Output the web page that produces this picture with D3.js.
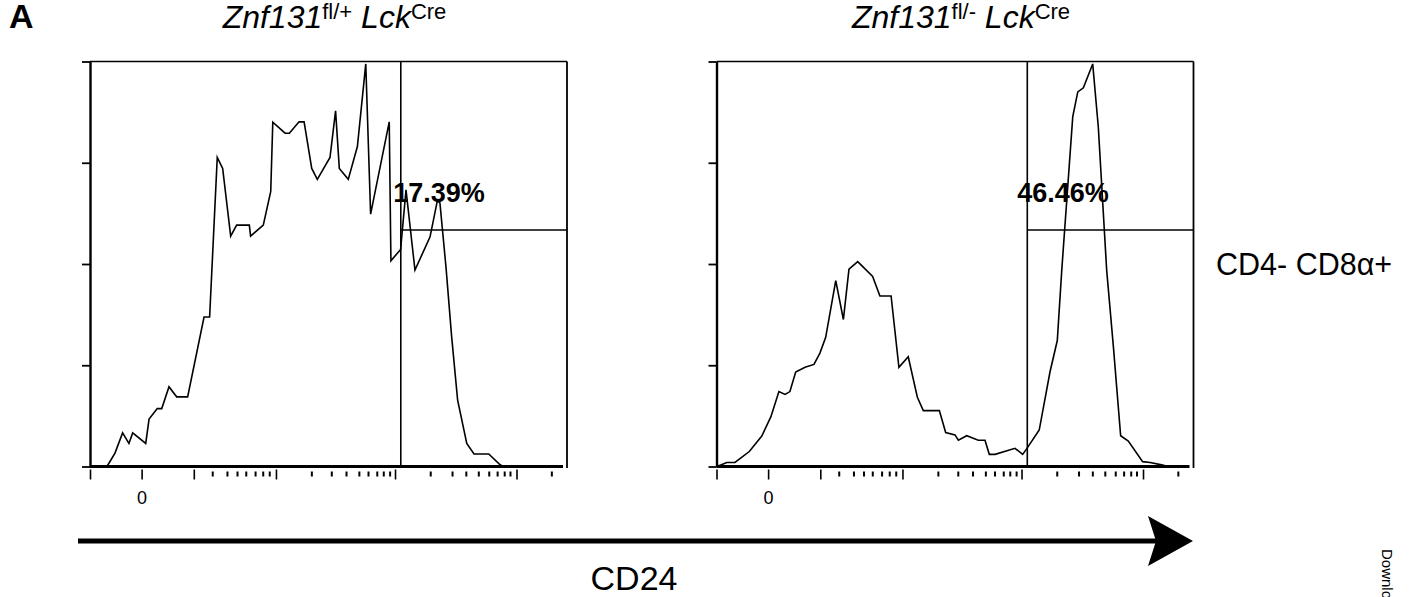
<!DOCTYPE html>
<html>
<head>
<meta charset="utf-8">
<script src="https://cdn.jsdelivr.net/npm/d3@7"></script>
<style>
  body { margin: 0; background: #fff; }
  svg { display: block; font-family: "Liberation Sans", Arial, sans-serif; }
</style>
</head>
<body>
<svg id="fig" width="1414" height="597"></svg>
<script>
// channel scale (0-256 display channels) and normalised count (% of mode)
const CH_MAX = 256;
const Y_MAX = 100;
const yTicks = [0, 25, 50, 75, 100];

// biexponential axis ticks, in display channels
const majorTicks = [0, 27.7, 55.7, 99.8, 163.7, 228.9];
const minorTicks = [65.6, 73.5, 78.9, 83.6, 88.6, 92.7, 96.2,
  118.8, 129.5, 137.4, 144.3, 149.2, 153.9, 157.4, 160.8,
  182.6, 194.3, 201.7, 208.4, 214.0, 218.5, 222.3, 225.4, 247.6];
const zeroTick = 27.7;

// Znf131 fl/+ Lck-Cre histogram
const ctrlX = [9.1, 13.4, 17.5, 20.9, 22.9, 29.9, 31.7, 36.1, 38.5, 42.4, 46.5, 52.4, 61.2, 64.2,
  68.3, 71.2, 75.5, 78.7, 85.5, 86.2, 93.0, 97.0, 98.1, 104.7, 107.0, 112.2, 114.9, 119.0, 122.0,
  128.8, 131.8, 133.8, 138.6, 143.5, 148.0, 150.6, 160.6, 161.5, 166.7, 169.6, 174.4, 182.5, 186.4,
  187.8, 191.1, 194.1, 197.3, 202.2, 206.1, 214.0, 219.7, 221.7];
const ctrlY = [0, 3.3, 8.3, 5.7, 8.3, 5.7, 11.7, 14.3, 14.3, 19.7, 17.2, 17.2, 36.9, 36.9,
  76.3, 73.6, 56.9, 59.6, 59.6, 56.9, 59.6, 67.9, 85.0, 82.3, 82.3, 85.1, 85.1, 73.6, 70.9,
  76.3, 87.8, 73.6, 70.9, 79.0, 99.4, 62.3, 85.1, 50.8, 53.6, 68.3, 48.5, 56.7, 65.6,
  65.1, 49.0, 32.0, 16.4, 5.7, 3.1, 3.1, 0.6, 0];

// Znf131 fl/- Lck-Cre histogram
const koX = [0.1, 1.0, 5.5, 9.9, 17.6, 24.3, 29.2, 33.5, 36.8, 39.4, 42.5, 47.5, 52.3, 55.5, 58.6,
  64.0, 68.1, 71.1, 75.8, 83.8, 87.7, 93.7, 97.9, 102.9, 107.8, 111.0, 119.6, 123.0, 128.0, 129.8,
  134.3, 140.5, 144.1, 146.4, 149.5, 160.2, 164.3, 166.8, 173.2, 179.0, 182.9, 185.3, 191.2, 193.9,
  196.9, 201.9, 204.9, 209.4, 213.0, 216.9, 221.0, 228.7, 232.7, 238.9, 242.3];
const koY = [0.6, 0.1, 1.0, 1.0, 3.7, 7.5, 12.3, 18.5, 17.8, 18.5, 23.3, 24.5, 25.2, 28.0, 31.9,
  45.9, 36.3, 48.7, 50.6, 46.9, 42.1, 42.1, 24.5, 27.1, 17.1, 13.8, 13.8, 8.4, 7.8, 6.5,
  7.6, 6.5, 6.5, 3.0, 3.0, 4.5, 3.0, 4.6, 9.0, 23.4, 31.1, 48.5, 86.4, 92.5,
  93.5, 99.4, 83.9, 48.5, 29.6, 7.6, 6.3, 1.2, 1.0, 0.4, 0];

// CD24-high gate and its frequency
const gateCh = 166.8;
const gateLevel = 58.4;
const gatePct = ["17.39%", "46.46%"];
const pctAt = [[187.3, 65.3], [186.0, 65.3]];
const genotypeSup = ["fl/+", "fl/-"];

const svg = d3.select("#fig");
const panelLeft = [90, 716.5];
const panelW = 477;
const plotTop = 61.5, plotBottom = 466.5;

const y = d3.scaleLinear().domain([0, Y_MAX]).range([plotBottom, plotTop]);

function drawPanel(i, xs, ys) {
  const x = d3.scaleLinear().domain([0, CH_MAX]).range([panelLeft[i], panelLeft[i] + panelW]);
  const g = svg.append("g");

  // frame: thin top / right, heavy left / bottom
  g.append("line").attr("x1", x(0)).attr("x2", x(CH_MAX)).attr("y1", plotTop).attr("y2", plotTop)
    .attr("stroke", "#000").attr("stroke-width", 1.5);
  g.append("line").attr("x1", x(CH_MAX)).attr("x2", x(CH_MAX)).attr("y1", plotTop).attr("y2", plotBottom + 1.5)
    .attr("stroke", "#000").attr("stroke-width", 1.8);

  const yAxis = g.append("g")
    .attr("transform", `translate(${x(0)},0)`)
    .call(d3.axisLeft(y).tickValues(yTicks).tickSize(8).tickSizeOuter(0).tickFormat(""));
  yAxis.select(".domain").attr("stroke-width", 2.4);
  yAxis.selectAll(".tick line").attr("stroke-width", 1.8);

  g.append("line").attr("x1", x(0)).attr("x2", x(CH_MAX) - 4).attr("y1", plotBottom).attr("y2", plotBottom)
    .attr("stroke", "#000").attr("stroke-width", 3);

  const major = g.append("g")
    .attr("transform", `translate(0,${plotBottom + 3})`)
    .call(d3.axisBottom(x).tickValues(majorTicks).tickSize(10).tickSizeOuter(0).tickPadding(12)
      .tickFormat(d => d === zeroTick ? "0" : ""));
  major.select(".domain").remove();
  major.selectAll(".tick line").attr("stroke-width", 1.6);
  major.attr("font-size", 18).attr("font-family", null);
  major.selectAll("text").style("font-size", "18px");

  const minor = g.append("g")
    .attr("transform", `translate(0,${plotBottom + 5})`)
    .call(d3.axisBottom(x).tickValues(minorTicks).tickSize(5).tickSizeOuter(0).tickFormat(""));
  minor.select(".domain").remove();
  minor.selectAll(".tick line").attr("stroke-width", 2);

  // gate
  g.append("line").attr("x1", x(gateCh)).attr("x2", x(gateCh)).attr("y1", plotTop).attr("y2", plotBottom)
    .attr("stroke", "#000").attr("stroke-width", 1.6);
  g.append("line").attr("x1", x(gateCh)).attr("x2", x(CH_MAX)).attr("y1", y(gateLevel)).attr("y2", y(gateLevel))
    .attr("stroke", "#000").attr("stroke-width", 1.6);

  const pts = xs.map((v, k) => [v, ys[k]]);
  g.append("path")
    .datum(pts)
    .attr("fill", "none")
    .attr("stroke", "#000")
    .attr("stroke-width", 1.6)
    .attr("stroke-linejoin", "miter")
    .attr("d", d3.line().x(d => x(d[0])).y(d => y(d[1])));

  g.append("text")
    .attr("x", x(pctAt[i][0]))
    .attr("y", y(pctAt[i][1]))
    .attr("text-anchor", "middle")
    .attr("font-size", 27)
    .attr("font-weight", "bold")
    .text(gatePct[i]);

  const t = g.append("text")
    .attr("x", x(CH_MAX / 2) + 6)
    .attr("y", 28)
    .attr("text-anchor", "middle")
    .attr("font-size", 32);
  t.append("tspan").attr("font-style", "italic").text("Znf131");
  t.append("tspan").attr("font-size", 22).attr("dy", -9).text(genotypeSup[i]);
  t.append("tspan").attr("dy", 9).text(" ");
  t.append("tspan").attr("font-style", "italic").text("Lck");
  t.append("tspan").attr("font-size", 22).attr("dy", -9).text("Cre");
}

drawPanel(0, ctrlX, ctrlY);
drawPanel(1, koX, koY);

svg.append("text").attr("x", 9).attr("y", 28).attr("font-size", 34).attr("font-weight", "bold").text("A");

svg.append("text").attr("x", 1216).attr("y", 275).attr("font-size", 30.5).text("CD4- CD8α+");

// CD24 arrow
svg.append("line").attr("x1", 78).attr("x2", 1160).attr("y1", 541).attr("y2", 541)
  .attr("stroke", "#000").attr("stroke-width", 5);
svg.append("path").attr("d", "M1193,541 L1148,516 L1156,541 L1148,566 Z").attr("fill", "#000");
svg.append("text").attr("x", 634).attr("y", 590).attr("text-anchor", "middle").attr("font-size", 34).text("CD24");

svg.append("text").attr("transform", "translate(1382,549) rotate(90)").attr("font-size", 15).text("Downloaded from");
</script>
</body>
</html>
